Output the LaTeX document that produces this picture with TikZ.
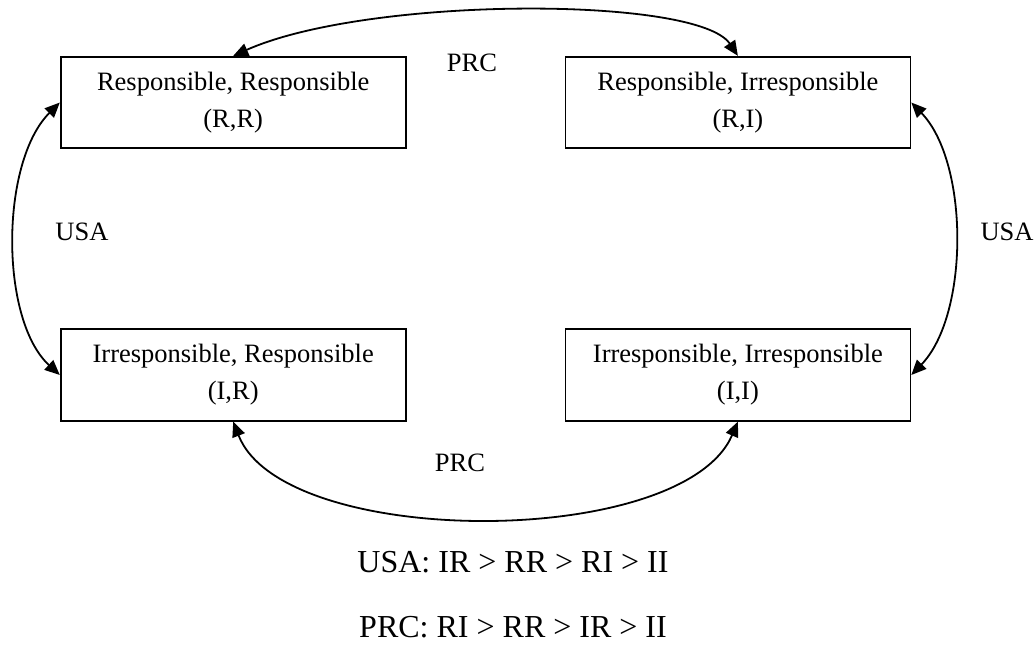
\documentclass[tikz,border=0pt]{standalone}
\usepackage{fontspec}
\setmainfont{Liberation Serif}
\usetikzlibrary{arrows.meta}

\tikzset{
  state/.style={draw, line width=1.8pt, minimum width=345pt, minimum height=91.5pt,
    align=center, inner sep=0pt, font=\fontsize{26.5}{37}\selectfont},
  player/.style={inner sep=0pt, font=\fontsize{26.5}{32}\selectfont},
  pref/.style={inner sep=0pt, font=\fontsize{32}{38}\selectfont},
  move/.style={line width=1.8pt, {Triangle[length=15pt,width=13pt]}-{Triangle[length=15pt,width=13pt]}}
}

\begin{document}
\begin{tikzpicture}[x=1pt, y=-1pt]
  \useasboundingbox (0,0) rectangle (1036,651);

  % the four outcomes
  \node[state] (rr) at (233.2,102.5) {Responsible, Responsible\\(R,R)};
  \node[state] (ri) at (737.9,102.5) {Responsible, Irresponsible\\(R,I)};
  \node[state] (ir) at (233.2,375) {Irresponsible, Responsible\\(I,R)};
  \node[state] (ii) at (737.9,375) {Irresponsible, Irresponsible\\(I,I)};

  % moves of each player
  \draw[move] (rr.north) .. controls +(135,-60) and +(-40,-60) .. (ri.north);
  \draw[move] (ir.south) .. controls +(50,128) and +(-55,128) .. (ii.south);
  \draw[move] (rr.west) .. controls +(-60,60) and +(-60,-55) .. (ir.west);
  \draw[move] (ri.east) .. controls +(58,60) and +(58,-60) .. (ii.east);

  \node[player] (prctop) at (472,63) {PRC};
  \node[player] (prcbot) at (460,463) {PRC};
  \node[player] (usal) at (82,232) {USA};
  \node[player] (usar) at (1007,232) {USA};

  % preference orderings
  \node[pref] (usapref) at (513,562) {USA: IR > RR > RI > II};
  \node[pref] (prcpref) at (513,627) {PRC: RI > RR > IR > II};
\end{tikzpicture}
\end{document}
